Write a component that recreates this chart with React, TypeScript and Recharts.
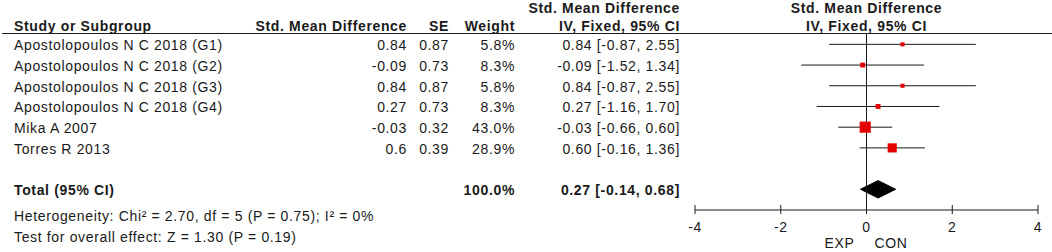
import React from 'react';
import { ComposedChart, XAxis, YAxis, Scatter, ReferenceLine, ReferenceArea } from 'recharts';

// ---------- data ----------
const studies = [
  'Apostolopoulos N C 2018 (G1)',
  'Apostolopoulos N C 2018 (G2)',
  'Apostolopoulos N C 2018 (G3)',
  'Apostolopoulos N C 2018 (G4)',
  'Mika A 2007',
  'Torres R 2013',
];
const smd = [0.84, -0.09, 0.84, 0.27, -0.03, 0.6];
const ciLow = [-0.87, -1.52, -0.87, -1.16, -0.66, -0.16];
const ciHigh = [2.55, 1.34, 2.55, 1.7, 0.6, 1.36];
const weights = [5.8, 8.3, 5.8, 8.3, 43.0, 28.9];
const smdLabels = ['0.84', '-0.09', '0.84', '0.27', '-0.03', '0.6'];
const seLabels = ['0.87', '0.73', '0.87', '0.73', '0.32', '0.39'];
const weightLabels = ['5.8%', '8.3%', '5.8%', '8.3%', '43.0%', '28.9%'];
const ciLabels = [
  '0.84 [-0.87, 2.55]',
  '-0.09 [-1.52, 1.34]',
  '0.84 [-0.87, 2.55]',
  '0.27 [-1.16, 1.70]',
  '-0.03 [-0.66, 0.60]',
  '0.60 [-0.16, 1.36]',
];
const totalEst = 0.27;
const totalLow = -0.14;
const totalHigh = 0.68;
const totalLabel = 'Total (95% CI)';
const totalWeightLabel = '100.0%';
const totalCiLabel = '0.27 [-0.14, 0.68]';
const heterogeneityText = 'Heterogeneity: Chi\u00B2 = 2.70, df = 5 (P = 0.75); I\u00B2 = 0%';
const overallText = 'Test for overall effect: Z = 1.30 (P = 0.19)';
const xTicks = [-4, -2, 0, 2, 4];
const favoursLeft = 'EXP';
const favoursRight = 'CON';

// ---------- layout ----------
const W = 1052;
const H = 252;
const PLOT_LEFT = 695;
const PLOT_RIGHT = 1038;
const PLOT_TOP = 34;
const PLOT_BOTTOM = 210;
const ROW_MIN = 0.5;
const ROW_MAX = 9;
const TOTAL_ROW = 8;
const rowH = (PLOT_BOTTOM - PLOT_TOP) / (ROW_MAX - ROW_MIN);
const rowY = (r: number) => PLOT_TOP + (r - ROW_MIN) * rowH;

const FONT = "'Liberation Sans', Arial, Helvetica, sans-serif";
const TEXT = '#1a1a1a';
const LINE = '#1a1a1a';
const RED = '#e30000';

const COL_NAME = 14;
const COL_SMD = 407;
const COL_SE = 449;
const COL_W = 515;
const COL_CI = 680;
const PLOT_CENTER = (PLOT_LEFT + PLOT_RIGHT) / 2;

const textStyle = { fontFamily: FONT, fontSize: 14, letterSpacing: 0.65, fill: TEXT } as const;

const T = ({ x, y, children, anchor = 'start', bold = false }: any) => (
  <text x={x} y={y} textAnchor={anchor} style={{ ...textStyle, fontWeight: bold ? 700 : 400 }}>
    {children}
  </text>
);

const SquareShape = (props: any) => {
  const { cx, cy, payload } = props;
  const s = Math.sqrt(payload.w) * 1.7;
  return <rect x={cx - s / 2} y={cy - s / 2} width={s} height={s} fill={RED} />;
};

const DiamondShape = (props: any) => {
  const { x, y, width, height } = props;
  const x0 = Math.min(x, x + width);
  const w = Math.abs(width);
  const y0 = Math.min(y, y + height);
  const h = Math.abs(height);
  const pts = `${x0},${y0 + h / 2} ${x0 + w / 2},${y0} ${x0 + w},${y0 + h / 2} ${x0 + w / 2},${y0 + h}`;
  return <polygon points={pts} fill="#000" stroke="#000" strokeWidth={1} />;
};

const AxisTick = (props: any) => {
  const { x, y, payload } = props;
  return (
    <g>
      <line x1={x} x2={x} y1={y - 5} y2={y + 4} stroke={LINE} strokeWidth={1} />
      <text x={x} y={y + 22} textAnchor="middle" style={{ ...textStyle, fontWeight: 400 }}>
        {String(payload.value)}
      </text>
    </g>
  );
};

export default function App() {
  const points = studies.map((s, i) => ({ x: smd[i], y: i + 1, w: weights[i], name: s }));
  const base = (r: number) => rowY(r) + 6;

  return (
    <div style={{ position: 'absolute', left: 0, top: 0, width: W, height: H, background: '#fff' }}>
      <ComposedChart
        width={W}
        height={H}
        margin={{ top: PLOT_TOP, right: W - PLOT_RIGHT, bottom: H - PLOT_BOTTOM - 40, left: PLOT_LEFT }}
      >
        <XAxis
          type="number"
          dataKey="x"
          domain={[-4, 4]}
          ticks={xTicks}
          interval={0}
          allowDataOverflow
          tickLine={false}
          tickSize={0}
          tickMargin={0}
          height={40}
          axisLine={{ stroke: LINE, strokeWidth: 1 }}
          tick={<AxisTick />}
        />
        <YAxis type="number" dataKey="y" domain={[ROW_MIN, ROW_MAX]} reversed hide allowDataOverflow />
        <ReferenceLine x={0} stroke={LINE} strokeWidth={1} />
        {studies.map((s, i) => (
          <ReferenceLine
            key={s + i}
            segment={[
              { x: ciLow[i], y: i + 1 },
              { x: ciHigh[i], y: i + 1 },
            ]}
            stroke={LINE}
            strokeWidth={1}
          />
        ))}
        <Scatter data={points} shape={<SquareShape />} isAnimationActive={false} />
        <ReferenceArea
          x1={totalLow}
          x2={totalHigh}
          y1={TOTAL_ROW - 0.42}
          y2={TOTAL_ROW + 0.42}
          shape={<DiamondShape />}
          fill="#000"
          fillOpacity={1}
        />
      </ComposedChart>
      <svg
        width={W}
        height={H}
        style={{ position: 'absolute', left: 0, top: 0, pointerEvents: 'none' }}
      >
        {/* headers */}
        <T x={COL_CI} y={13} anchor="end" bold>Std. Mean Difference</T>
        <T x={PLOT_CENTER} y={13} anchor="middle" bold>Std. Mean Difference</T>
        <T x={COL_NAME} y={31} bold>Study or Subgroup</T>
        <T x={COL_SMD} y={31} anchor="end" bold>Std. Mean Difference</T>
        <T x={COL_SE} y={31} anchor="end" bold>SE</T>
        <T x={COL_W} y={31} anchor="end" bold>Weight</T>
        <T x={COL_CI} y={31} anchor="end" bold>IV, Fixed, 95% CI</T>
        <T x={PLOT_CENTER} y={31} anchor="middle" bold>IV, Fixed, 95% CI</T>
        <line x1={2} x2={W} y1={33.5} y2={33.5} stroke={LINE} strokeWidth={1} />

        {studies.map((s, i) => (
          <g key={'row' + i}>
            <T x={COL_NAME} y={base(i + 1)}>{s}</T>
            <T x={COL_SMD} y={base(i + 1)} anchor="end">{smdLabels[i]}</T>
            <T x={COL_SE} y={base(i + 1)} anchor="end">{seLabels[i]}</T>
            <T x={COL_W} y={base(i + 1)} anchor="end">{weightLabels[i]}</T>
            <T x={COL_CI} y={base(i + 1)} anchor="end">{ciLabels[i]}</T>
          </g>
        ))}

        <T x={COL_NAME} y={base(TOTAL_ROW)} bold>{totalLabel}</T>
        <T x={COL_W} y={base(TOTAL_ROW)} anchor="end" bold>{totalWeightLabel}</T>
        <T x={COL_CI} y={base(TOTAL_ROW)} anchor="end" bold>{totalCiLabel}</T>
        <T x={COL_NAME} y={221}>{heterogeneityText}</T>
        <T x={COL_NAME} y={242}>{overallText}</T>

        <T x={PLOT_CENTER - 12} y={248} anchor="end">{favoursLeft}</T>
        <T x={PLOT_CENTER + 8} y={248}>{favoursRight}</T>
      </svg>
    </div>
  );
}
